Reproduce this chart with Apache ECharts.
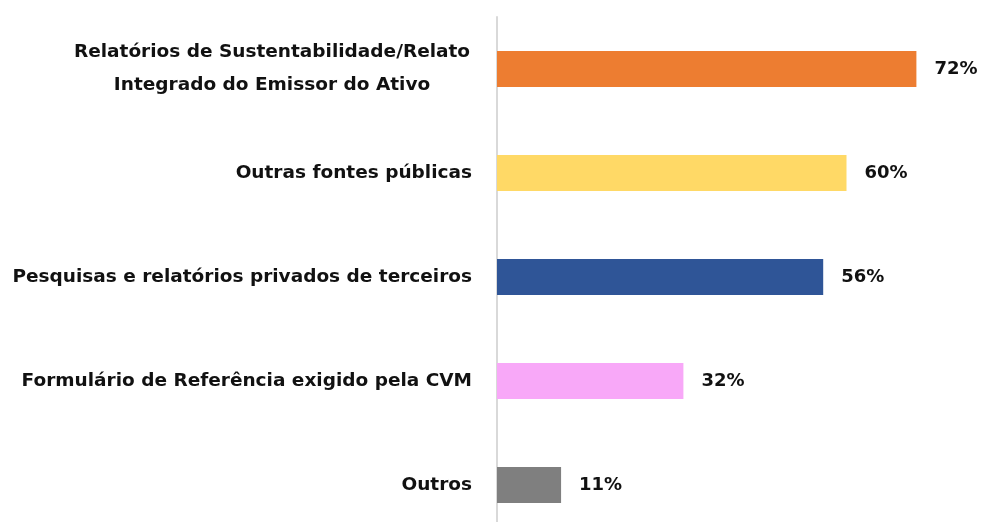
<!DOCTYPE html>
<html>
<head>
<meta charset="utf-8">
<script src="https://cdn.jsdelivr.net/npm/echarts@6/dist/echarts.min.js"></script>
<style>
  html, body { margin: 0; padding: 0; background: #fff; overflow: hidden; }
  #main { width: 981px; height: 540px; }
</style>
</head>
<body>
<div id="main"></div>
<script>
// fontes de informação ESG
var categorias = [
  'Relatórios de Sustentabilidade/Relato\nIntegrado do Emissor do Ativo',
  'Outras fontes públicas',
  'Pesquisas e relatórios privados de terceiros',
  'Formulário de Referência exigido pela CVM',
  'Outros'
];
var valores = [72, 60, 56, 32, 11];
var cores = ['#ED7D31', '#FFD966', '#2F5597', '#F8A8F8', '#7F7F7F'];

var fonte = {
  color: '#111',
  fontFamily: 'DejaVu Sans',
  fontWeight: 'bold',
  fontSize: 18.5
};

// o gráfico passa da borda de baixo da janela, como no original
var chart = echarts.init(document.getElementById('main'));
var option = {
  backgroundColor: '#fff',
  animation: false,
  grid: { left: 497, top: 17, width: 466, height: 520 },
  xAxis: {
    type: 'value',
    min: 0,
    max: 80,
    show: false
  },
  yAxis: {
    type: 'category',
    inverse: true,
    data: categorias,
    axisLine: { show: true, lineStyle: { color: '#d9d9d9', width: 2 } },
    axisTick: { show: false },
    axisLabel: Object.assign({
      margin: 25,
      lineHeight: 33,
      align: 'right',
      // rótulo de duas linhas fica centralizado
      formatter: function (v) {
        if (v.indexOf('\n') < 0) return v;
        return v.split('\n').map(function (l) { return '{c|' + l + '}'; }).join('\n');
      },
      rich: {
        c: Object.assign({ width: 400, align: 'center', lineHeight: 33 }, fonte)
      }
    }, fonte)
  },
  series: [{
    type: 'bar',
    barWidth: 36,
    data: valores.map(function (v, i) {
      return { value: v, itemStyle: { color: cores[i] } };
    }),
    label: Object.assign({
      show: true,
      position: 'right',
      distance: 18,
      formatter: '{c}%'
    }, fonte, { fontSize: 18 })
  }]
};
chart.setOption(option);
</script>
</body>
</html>
